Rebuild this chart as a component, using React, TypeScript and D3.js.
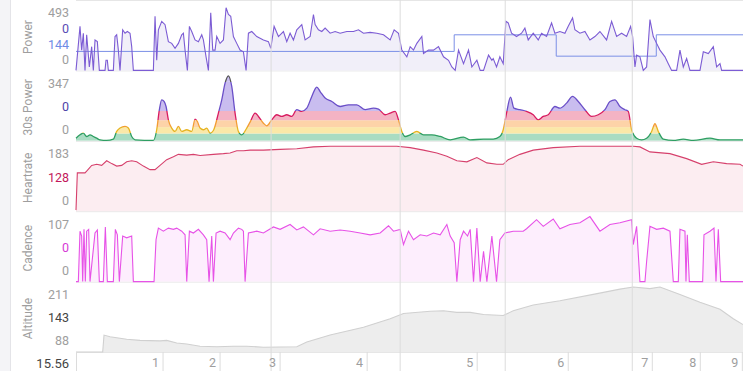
import React from 'react';
import * as d3 from 'd3';

// ride data, time in seconds
const DURATION = 2000;

const power: [number, number][] = [
  [0, 0], [12, 334], [17, 154], [22, 282], [27, 0], [32, 270], [40, 26], [47, 180], [52, 0], [57, 231], [64, 218], [70, 0],
  [87, 0], [90, 77], [94, 77], [97, 0], [112, 0], [117, 257], [122, 270], [127, 154], [132, 0], [140, 308], [147, 282],
  [154, 295], [162, 282], [167, 180], [172, 0], [232, 0], [237, 411], [242, 77], [247, 308], [257, 372], [267, 347],
  [277, 218], [287, 205], [297, 167], [307, 205], [317, 270], [322, 282], [327, 154], [334, 0], [340, 334], [347, 295],
  [357, 231], [367, 218], [377, 270], [382, 231], [390, 103], [397, 0], [404, 437], [410, 154], [417, 154], [422, 257],
  [432, 205], [442, 231], [450, 475], [457, 424], [464, 411], [472, 257], [482, 205], [492, 154], [502, 141], [510, 0],
  [517, 282], [527, 295], [542, 257], [562, 231], [577, 218], [584, 167], [594, 334], [607, 257], [622, 295], [632, 218],
  [642, 282], [652, 231], [662, 308], [677, 347], [687, 231], [702, 257], [712, 424], [717, 347], [727, 308], [737, 295],
  [747, 321], [762, 282], [777, 295], [792, 282], [812, 295], [832, 295], [847, 308], [862, 282], [882, 288], [902, 282],
  [922, 270], [942, 231], [954, 308], [967, 282], [977, 154], [992, 103], [1002, 180], [1012, 154], [1022, 205],
  [1037, 257], [1042, 128], [1057, 154], [1072, 154], [1087, 180], [1102, 103], [1117, 77], [1127, 26], [1137, 0],
  [1147, 154], [1162, 51], [1177, 154], [1187, 26], [1202, 77], [1212, 0], [1222, 0], [1237, 116], [1247, 77], [1251, 90],
  [1261, 26], [1271, 103], [1281, 51], [1289, 372], [1296, 360], [1306, 282], [1321, 257], [1336, 282], [1346, 321],
  [1356, 231], [1371, 282], [1386, 231], [1396, 282], [1411, 257], [1426, 360], [1436, 282], [1451, 295], [1466, 282],
  [1476, 334], [1489, 398], [1496, 308], [1511, 282], [1526, 295], [1541, 231], [1556, 257], [1571, 295], [1591, 231],
  [1606, 372], [1621, 257], [1636, 282], [1651, 257], [1663, 334], [1669, 257], [1676, 26], [1681, 116], [1691, 103],
  [1701, 0], [1711, 26], [1721, 385], [1731, 257], [1741, 205], [1751, 154], [1766, 103], [1776, 51], [1786, 0], [1801, 0],
  [1811, 154], [1821, 26], [1831, 90], [1841, 0], [1871, 0], [1881, 141], [1896, 128], [1911, 180], [1921, 26], [1931, 51],
  [1936, 0], [2000, 0],
];

// lap average power (step)
const lapAvgPower: [number, number][] = [[0, 144], [1134, 270], [1440, 108], [1740, 270], [2000, 270]];

const power30s: [number, number][] = [
  [0, 14], [12, 32], [22, 41], [32, 23], [42, 32], [52, 23], [62, 14], [72, 5], [92, 2], [112, 9], [122, 50], [132, 68],
  [147, 77], [157, 68], [167, 23], [177, 5], [232, 2], [242, 59], [250, 166], [257, 219], [264, 210], [270, 183], [277, 112],
  [287, 68], [297, 50], [307, 77], [317, 50], [332, 59], [347, 50], [357, 116], [364, 103], [372, 68], [382, 59], [392, 68],
  [402, 41], [412, 55], [427, 148], [437, 219], [447, 308], [457, 347], [467, 290], [477, 148], [487, 50], [497, 32],
  [512, 68], [522, 100], [537, 148], [547, 130], [562, 94], [572, 80], [587, 112], [602, 139], [617, 130], [632, 139],
  [647, 130], [662, 166], [677, 157], [692, 174], [707, 237], [722, 287], [732, 263], [747, 228], [767, 210], [792, 183],
  [817, 192], [842, 192], [867, 166], [892, 174], [907, 169], [927, 139], [942, 148], [957, 157], [967, 112], [977, 50],
  [987, 23], [1002, 32], [1022, 50], [1042, 32], [1067, 32], [1092, 23], [1122, 5], [1162, 20], [1182, 5], [1222, 9],
  [1251, 9], [1271, 23], [1281, 59], [1291, 148], [1303, 233], [1313, 174], [1331, 166], [1351, 157], [1371, 139],
  [1386, 112], [1401, 130], [1416, 139], [1436, 183], [1451, 174], [1471, 201], [1489, 237], [1506, 210], [1526, 166],
  [1546, 130], [1566, 139], [1586, 166], [1601, 210], [1616, 219], [1631, 183], [1646, 166], [1656, 157], [1666, 59],
  [1681, 14], [1696, 5], [1711, 14], [1726, 50], [1736, 91], [1746, 50], [1761, 9], [1791, 2], [1821, 9], [1851, 2],
  [1901, 14], [1931, 5], [2000, 5],
];

const heartrate: [number, number][] = [
  [0, 3], [4, 108], [27, 108], [34, 115], [47, 129], [62, 132], [77, 129], [92, 142], [107, 134], [122, 127], [137, 129],
  [152, 139], [167, 142], [182, 139], [202, 127], [222, 117], [237, 117], [252, 129], [272, 145], [292, 153], [307, 160],
  [332, 158], [352, 160], [372, 157], [412, 160], [442, 162], [462, 164], [482, 170], [502, 170], [522, 172], [562, 172],
  [612, 174], [662, 176], [712, 181], [762, 183], [862, 183], [962, 183], [1002, 179], [1042, 172], [1082, 164],
  [1112, 155], [1142, 142], [1172, 139], [1202, 151], [1232, 136], [1262, 132], [1281, 132], [1296, 145], [1331, 160],
  [1371, 172], [1431, 179], [1511, 183], [1581, 183], [1671, 183], [1691, 181], [1721, 167], [1781, 162], [1831, 148],
  [1876, 132], [1911, 139], [1951, 134], [1991, 132], [2000, 127],
];

const cadence: [number, number][] = [
  [0, 0], [7, 0], [12, 83], [17, 75], [20, 0], [24, 86], [28, 0], [32, 83], [38, 86], [42, 0], [57, 80], [64, 85], [70, 0],
  [82, 0], [88, 90], [94, 0], [112, 0], [118, 86], [124, 77], [130, 0], [140, 75], [152, 72], [167, 75], [172, 0], [234, 0],
  [240, 69], [247, 88], [262, 83], [277, 88], [292, 86], [302, 88], [317, 83], [327, 77], [332, 0], [340, 83], [352, 80],
  [367, 86], [382, 77], [392, 69], [399, 0], [407, 75], [412, 0], [420, 80], [432, 83], [447, 80], [462, 69], [472, 80],
  [487, 88], [497, 86], [502, 83], [507, 0], [517, 80], [542, 83], [562, 80], [592, 90], [612, 86], [642, 94], [662, 85],
  [682, 90], [712, 77], [732, 87], [762, 83], [792, 85], [822, 83], [852, 80], [882, 77], [912, 80], [937, 92], [952, 83],
  [972, 86], [982, 61], [997, 83], [1012, 69], [1032, 77], [1052, 75], [1072, 80], [1092, 77], [1112, 94], [1122, 75],
  [1134, 64], [1142, 0], [1152, 69], [1162, 83], [1174, 75], [1182, 86], [1192, 0], [1202, 88], [1212, 0], [1222, 50],
  [1232, 0], [1247, 75], [1261, 0], [1271, 69], [1286, 80], [1311, 83], [1341, 83], [1351, 87], [1381, 102], [1401, 91],
  [1431, 103], [1451, 87], [1481, 94], [1511, 97], [1541, 107], [1571, 83], [1601, 94], [1631, 97], [1666, 102],
  [1671, 61], [1681, 91], [1691, 0], [1706, 0], [1711, 33], [1721, 91], [1741, 86], [1761, 88], [1781, 83], [1791, 0],
  [1806, 0], [1811, 86], [1826, 83], [1829, 0], [1833, 77], [1839, 0], [1879, 0], [1883, 77], [1901, 83], [1913, 88],
  [1919, 0], [1926, 86], [1933, 0], [2000, 0],
];

const altitude: [number, number][] = [
  [0, 88], [80, 88], [84, 120], [102, 117], [152, 112], [192, 110], [252, 109], [272, 110], [302, 105], [332, 103],
  [372, 99], [422, 98], [472, 99], [512, 99], [562, 97], [662, 98], [692, 107], [762, 120], [862, 135], [942, 151],
  [982, 161], [1062, 165], [1102, 166], [1142, 163], [1182, 163], [1222, 159], [1281, 157], [1311, 166], [1371, 177],
  [1451, 185], [1551, 197], [1631, 207], [1671, 211], [1721, 208], [1751, 211], [1811, 197], [1871, 182], [1931, 169],
  [1971, 151], [2000, 140],
];

const lapTimes = [585, 972, 1287, 1668];
const kmTimes = [261, 432, 612, 873, 1203, 1476, 1728, 1872, 1998];
const kmLabels = ['1', '2', '3', '4', '5', '6', '7', '8', '9'];
const startLabel = '15.56';

// 30s power zones (upper bounds)
const zoneBounds = [0, 39, 73, 110, 159, 315, 347];

const panelTitles = ['Power', '30s Power', 'Heartrate', 'Cadence', 'Altitude'];
const powerLabels = ['493', '0', '144', '0'];
const power30Labels = ['347', '0', '0'];
const hrLabels = ['183', '128', '0'];
const cadenceLabels = ['107', '0', '0'];
const altitudeLabels = ['211', '143', '88'];

const W = 743;
const H = 371;
const LEFT = 76;
const PANEL_H = 70.4;
const FONT = 'Roboto, "Noto Sans", sans-serif';
const GREY = '#9e9e9e';

const zoneLine = ['#2e9e62', '#e6b422', '#f39c33', '#d81b60', '#6a4fc8', '#555555'];
const zoneFill = ['#a9dcc2', '#fbe8a8', '#fdd3a8', '#f4b3c4', '#c9bdef', '#c9bdef'];

const x = d3.scaleLinear().domain([0, DURATION]).range([LEFT, W]);

function yFor(i: number, min: number, max: number) {
  const top = i * PANEL_H;
  return d3.scaleLinear().domain([min, max]).range([top + PANEL_H, top + 5.4]);
}

type Pt = [number, number];

function linePath(data: Pt[], y: d3.ScaleLinear<number, number>, curve: d3.CurveFactory = d3.curveLinear) {
  return d3.line<Pt>().x((d) => x(d[0])).y((d) => y(d[1])).curve(curve)(data) || '';
}
function areaPath(data: Pt[], y: d3.ScaleLinear<number, number>, curve: d3.CurveFactory = d3.curveLinear) {
  return d3.area<Pt>().x((d) => x(d[0])).y0(y.range()[0]).y1((d) => y(d[1])).curve(curve)(data) || '';
}

function TickLabels({ i, labels, colors }: { i: number; labels: string[]; colors: string[] }) {
  const top = i * PANEL_H;
  const ys = labels.length === 4 ? [13, 28.7, 44.4, 60] : [13, 36.5, 59.5];
  return (
    <g>
      {labels.map((l, k) => (
        <text key={k} x={69} y={top + ys[k]} dy="0.35em" textAnchor="end" fontSize={12.5} fill={colors[k]}>
          {l}
        </text>
      ))}
    </g>
  );
}

export default function App() {
  const yPow = yFor(0, 0, 493);
  const y30 = yFor(1, 0, 347);
  const yHr = yFor(2, 0, 183);
  const yCad = yFor(3, 0, 107);
  const yAlt = yFor(4, 88, 211);

  return (
    <svg width={W} height={H} style={{ position: 'absolute', left: 0, top: 0, background: '#fff' }} fontFamily={FONT}>
      <defs>
        <clipPath id="area30">
          <path d={areaPath(power30s, y30, d3.curveMonotoneX)} />
        </clipPath>
        <linearGradient id="zoneStroke" gradientUnits="userSpaceOnUse" x1={0} x2={0} y1={y30(0)} y2={y30(347)}>
          {zoneLine.map((c, k) => [
            <stop key={k + 'a'} offset={zoneBounds[k] / 347} stopColor={c} />,
            <stop key={k + 'b'} offset={zoneBounds[k + 1] / 347} stopColor={c} />,
          ])}
        </linearGradient>
      </defs>

      {/* left strip */}
      <rect x={0} y={0} width={10} height={H} fill="#f4f4f7" />
      <line x1={10.5} x2={10.5} y1={0} y2={H} stroke="#e4e4e8" />

      {/* panel separators */}
      {d3.range(6).map((k) => (
        <line key={k} x1={LEFT} x2={W} y1={k * PANEL_H + 0.5} y2={k * PANEL_H + 0.5} stroke="#e6e6e6" />
      ))}

      {/* Power */}
      <path d={areaPath(power, yPow)} fill="#f1eff9" />
      <path d={linePath(lapAvgPower, yPow, d3.curveStepAfter)} fill="none" stroke="#7b8fe6" strokeWidth={1} />
      <path d={linePath(power, yPow)} fill="none" stroke="#7c5cd4" strokeWidth={1.1} />

      {/* 30s Power zones */}
      <g clipPath="url(#area30)">
        {zoneFill.map((c, k) => (
          <rect key={k} x={LEFT} width={W - LEFT} y={y30(zoneBounds[k + 1] + (k === 5 ? 100 : 0))}
            height={y30(zoneBounds[k]) - y30(zoneBounds[k + 1] + (k === 5 ? 100 : 0))} fill={c} />
        ))}
      </g>
      <path d={linePath(power30s, y30, d3.curveMonotoneX)} fill="none" stroke="url(#zoneStroke)" strokeWidth={1.3} />

      {/* Heartrate */}
      <path d={areaPath(heartrate, yHr)} fill="#fcedf1" />
      <path d={linePath(heartrate, yHr)} fill="none" stroke="#d6406c" strokeWidth={1.1} />

      {/* Cadence */}
      <path d={areaPath(cadence, yCad)} fill="#fdeefd" />
      <path d={linePath(cadence, yCad)} fill="none" stroke="#e752e7" strokeWidth={1.1} />

      {/* Altitude */}
      <path d={areaPath(altitude, yAlt)} fill="#ededed" />
      <path d={linePath(altitude, yAlt)} fill="none" stroke="#d0d0d0" strokeWidth={1.1} />

      {/* lap lines */}
      {lapTimes.map((t) => (
        <line key={t} x1={x(t)} x2={x(t)} y1={0} y2={H} stroke="#dcdcdc" />
      ))}

      {/* axis titles */}
      {panelTitles.map((t, k) => (
        <text key={t} transform={`translate(32,${k * PANEL_H + 37}) rotate(-90)`} textAnchor="middle" fontSize={12} fill={GREY}>
          {t}
        </text>
      ))}

      <TickLabels i={0} labels={powerLabels} colors={[GREY, '#5a4bb5', '#6f8ce6', GREY]} />
      <TickLabels i={1} labels={power30Labels} colors={[GREY, '#4f43a8', GREY]} />
      <TickLabels i={2} labels={hrLabels} colors={[GREY, '#c2185b', GREY]} />
      <TickLabels i={3} labels={cadenceLabels} colors={[GREY, '#d63ad6', GREY]} />
      <TickLabels i={4} labels={altitudeLabels} colors={[GREY, '#444', GREY]} />

      {/* bottom axis */}
      <line x1={LEFT + 0.5} x2={LEFT + 0.5} y1={5 * PANEL_H} y2={H} stroke="#dcdcdc" />
      <text x={69} y={368} textAnchor="end" fontSize={13} fill="#444">{startLabel}</text>
      {kmTimes.map((t, k) => (
        <g key={t}>
          <line x1={x(t)} x2={x(t)} y1={5 * PANEL_H} y2={H} stroke="#dcdcdc" />
          <text x={x(t) - 4} y={367} textAnchor="end" fontSize={12.5} fill={GREY}>{kmLabels[k]}</text>
        </g>
      ))}
    </svg>
  );
}
